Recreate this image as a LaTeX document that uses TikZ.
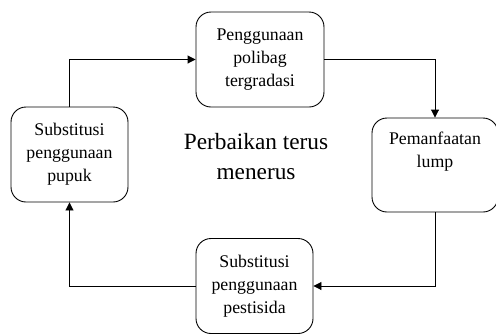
\documentclass[tikz,border=0pt]{standalone}
\usepackage{fontspec}
\setmainfont{Liberation Serif}
\usetikzlibrary{arrows.meta}
\begin{document}
\begin{tikzpicture}[x=1pt,y=-1pt,
  box/.style={draw, line width=0.9pt, rounded corners=15pt, align=center, inner sep=0pt,
    font=\fontsize{17.8}{23}\selectfont},
  conn/.style={draw, line width=0.9pt, -{Triangle[length=8pt,width=8pt]}}]
\useasboundingbox (0,0) rectangle (496,333);
\node[box, minimum width=128pt, minimum height=95pt] (top) at (260,59.5)
  {Penggunaan\\polibag\\tergradasi};
\node[box, minimum width=126pt, minimum height=94pt] (right) at (435,165)
  {Pemanfaatan\\lump\\\strut};
\node[box, minimum width=117pt, minimum height=95pt] (left) at (69.5,154.5)
  {Substitusi\\penggunaan\\pupuk};
\node[box, minimum width=117pt, minimum height=95pt] (bottom) at (254.5,286)
  {Substitusi\\penggunaan\\pestisida};
\node[align=center, font=\fontsize{23.3}{30}\selectfont] (center) at (256,157)
  {Perbaikan terus\\menerus};
\draw[conn] (left.north) |- (top.west);
\draw[conn] (top.east) -| (right.north);
\draw[conn] (right.south) |- (bottom.east);
\draw[conn] (bottom.west) -| (left.south);
\end{tikzpicture}
\end{document}
